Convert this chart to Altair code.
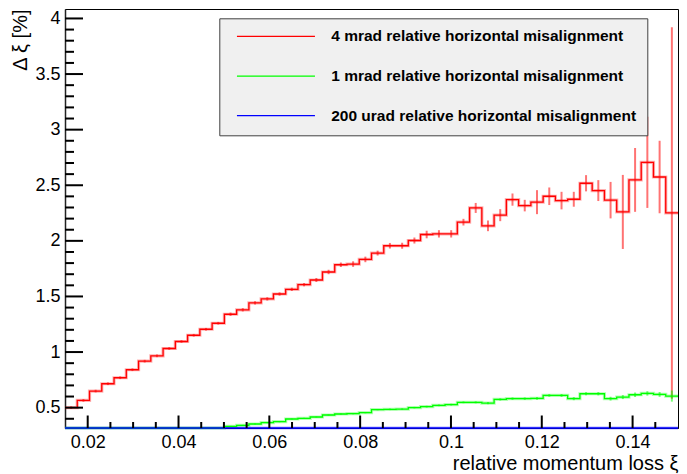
import altair as alt
import numpy as np
import pandas as pd

FONT = "Liberation Sans"

XI_MIN, XI_MAX, N_BINS = 0.015, 0.15, 50
Y_MIN, Y_MAX = 0.317, 4.085

series_names = [
    "4 mrad relative horizontal misalignment",
    "1 mrad relative horizontal misalignment",
    "200 urad relative horizontal misalignment",
]
series_colors = ["#ff0000", "#00ff00", "#0000ff"]

red_values = [0.500, 0.565, 0.649, 0.715, 0.769, 0.841, 0.918, 0.966, 1.032, 1.095,
              1.151, 1.205, 1.259, 1.340, 1.380, 1.442, 1.478, 1.522, 1.564, 1.606,
              1.648, 1.720, 1.785, 1.791, 1.833, 1.890, 1.956, 1.956, 2.003, 2.057,
              2.063, 2.063, 2.168, 2.296, 2.135, 2.231, 2.371, 2.317, 2.348, 2.401,
              2.362, 2.374, 2.518, 2.452, 2.366, 2.260, 2.548, 2.706, 2.574, 2.251]
red_errors = [0.012] * 13 + [0.015] * 7 + [
              0.018, 0.020, 0.020, 0.025, 0.025, 0.022, 0.025, 0.027, 0.027, 0.034,
              0.033, 0.033, 0.030, 0.045, 0.048, 0.054, 0.055, 0.052, 0.108, 0.079,
              0.079, 0.067, 0.073, 0.094, 0.164, 0.333, 0.287, 0.410, 0.326, 1.670]

green_values = [0.125, 0.141, 0.162, 0.179, 0.192, 0.210, 0.230, 0.242, 0.258, 0.274,
                0.288, 0.301, 0.315, 0.332, 0.341, 0.353, 0.365, 0.374, 0.398, 0.404,
                0.416, 0.434, 0.443, 0.446, 0.455, 0.482, 0.485, 0.487, 0.500, 0.509,
                0.521, 0.527, 0.548, 0.548, 0.541, 0.574, 0.581, 0.581, 0.583, 0.610,
                0.610, 0.581, 0.625, 0.625, 0.581, 0.595, 0.616, 0.628, 0.619, 0.604]
green_errors = [0.004] * 15 + [0.005] * 6 + [
                0.006, 0.006, 0.006, 0.006, 0.006, 0.007, 0.007, 0.007, 0.008,
                0.008, 0.008, 0.008, 0.009, 0.010, 0.010, 0.011, 0.011, 0.012, 0.012,
                0.013, 0.014, 0.014, 0.015, 0.017, 0.018, 0.020, 0.020, 0.022, 0.050]

blue_values = [0.025, 0.028, 0.032, 0.036, 0.038, 0.042, 0.046, 0.048, 0.052, 0.055,
               0.058, 0.060, 0.063, 0.067, 0.069, 0.072, 0.074, 0.076, 0.078, 0.080,
               0.082, 0.086, 0.089, 0.090, 0.092, 0.094, 0.098, 0.098, 0.100, 0.103,
               0.103, 0.103, 0.108, 0.115, 0.107, 0.112, 0.119, 0.116, 0.117, 0.120,
               0.118, 0.119, 0.126, 0.123, 0.118, 0.113, 0.127, 0.135, 0.129, 0.113]
blue_errors = [0.003] * 50

x_major = [0.02, 0.04, 0.06, 0.08, 0.1, 0.12, 0.14]
x_minor = [0.025, 0.03, 0.035, 0.045, 0.05, 0.055, 0.065, 0.07, 0.075,
           0.085, 0.09, 0.095, 0.105, 0.11, 0.115, 0.125, 0.13, 0.135, 0.145]
y_major = [0.5, 1, 1.5, 2, 2.5, 3, 3.5, 4]
y_minor = [0.4, 0.6, 0.7, 0.8, 0.9, 1.1, 1.2, 1.3, 1.4, 1.6, 1.7, 1.8, 1.9,
           2.1, 2.2, 2.3, 2.4, 2.6, 2.7, 2.8, 2.9, 3.1, 3.2, 3.3, 3.4,
           3.6, 3.7, 3.8, 3.9]

edges = np.linspace(XI_MIN, XI_MAX, N_BINS + 1)
centers = 0.5 * (edges[:-1] + edges[1:])

step_rows, err_rows = [], []
for name, vals, errs in zip(series_names,
                            [red_values, green_values, blue_values],
                            [red_errors, green_errors, blue_errors]):
    for k in range(N_BINS):
        step_rows.append({"series": name, "xi": float(edges[k]), "val": vals[k], "k": k})
        err_rows.append({"series": name, "xc": float(centers[k]),
                         "lo": vals[k] - errs[k], "hi": vals[k] + errs[k]})
    step_rows.append({"series": name, "xi": float(edges[N_BINS]), "val": vals[-1],
                      "k": N_BINS})
step_df = pd.DataFrame(step_rows)
err_df = pd.DataFrame(err_rows)

W, H = 613, 419
xscale = alt.Scale(domain=[XI_MIN, XI_MAX], nice=False, zero=False)
yscale = alt.Scale(domain=[Y_MIN, Y_MAX], nice=False, zero=False, clamp=True)
cscale = alt.Scale(domain=series_names, range=series_colors)

NBSP = "\u00a0"
legend = alt.Legend(
    title=None, orient="none", legendX=154.3, legendY=9.3, direction="vertical",
    fillColor="#f0f0f0", strokeColor="#404040", padding=10.4, rowPadding=22.6,
    symbolType="M-6.5,0H6.5", symbolSize=144, symbolStrokeWidth=1.2, symbolOpacity=1,
    symbolFillColor="transparent", symbolOffset=38.5,
    labelFont=FONT, labelFontSize=15.5, labelFontWeight="bold", labelColor="black",
    labelOffset=47.5, labelLimit=600,
    labelExpr="datum.label + '" + NBSP * 5 + "'",
    zindex=1,
)

color = alt.Color("series:N", scale=cscale, legend=legend, sort=series_names)

main_x_axis = alt.Axis(
    orient="bottom", values=x_major, format=".2~f", ticks=False, tickSize=0, grid=False,
    domain=True, domainColor="black", domainWidth=1,
    labelFont=FONT, labelFontSize=18, labelColor="black", labelPadding=5,
    labelFlush=False, labelOverlap=False,
    title="relative momentum loss ξ", titleFont=FONT, titleFontSize=20,
    titleFontWeight="normal", titleColor="black", titleAnchor="end",
    titleBaseline="alphabetic", titleY=41,
)
main_y_axis = alt.Axis(
    orient="left", values=y_major, format="~g", ticks=False, tickSize=0, grid=False,
    domain=True, domainColor="#222222", domainWidth=1.5,
    labelFont=FONT, labelFontSize=18, labelColor="black", labelPadding=5,
    labelFlush=False, labelOverlap=False,
    title="Δ ξ [%]", titleFont=FONT, titleFontSize=20, titleFontWeight="normal",
    titleColor="black", titleAnchor="end", titlePadding=4,
)

halo = alt.Chart(step_df).mark_line(interpolate="step-after", strokeWidth=3.2,
                                     opacity=0.3).encode(
    x=alt.X("xi:Q", scale=xscale, axis=main_x_axis),
    y=alt.Y("val:Q", scale=yscale, axis=main_y_axis),
    color=color,
    order=alt.Order("k:Q"),
)

errbars = alt.Chart(err_df).mark_rule(strokeWidth=2, opacity=0.55).encode(
    x=alt.X("xc:Q", scale=xscale, axis=None),
    y=alt.Y("lo:Q", scale=yscale, axis=None),
    y2="hi:Q",
    color=color,
)

core = alt.Chart(step_df).mark_line(interpolate="step-after", strokeWidth=1.3).encode(
    x=alt.X("xi:Q", scale=xscale, axis=None),
    y=alt.Y("val:Q", scale=yscale, axis=None),
    color=color,
    order=alt.Order("k:Q"),
)

# ---- inward-pointing frame ticks (ROOT style), lengths in pixels ----
PX_PER_X = W / (XI_MAX - XI_MIN)
PX_PER_Y = H / (Y_MAX - Y_MIN)
tick_rows = []
for v in x_major:
    tick_rows.append({"x1": v, "x2": v, "y1": Y_MIN, "y2": Y_MIN + 12.5 / PX_PER_Y})
for v in x_minor:
    tick_rows.append({"x1": v, "x2": v, "y1": Y_MIN, "y2": Y_MIN + 6 / PX_PER_Y})
for v in y_major:
    tick_rows.append({"x1": XI_MIN, "x2": XI_MIN + 18 / PX_PER_X, "y1": v, "y2": v})
for v in y_minor:
    tick_rows.append({"x1": XI_MIN, "x2": XI_MIN + 9 / PX_PER_X, "y1": v, "y2": v})
tick_df = pd.DataFrame(tick_rows)

ticks = alt.Chart(tick_df).mark_rule(strokeWidth=2, color="black", opacity=1).encode(
    x=alt.X("x1:Q", scale=xscale, axis=None),
    x2="x2:Q",
    y=alt.Y("y1:Q", scale=yscale, axis=None),
    y2="y2:Q",
)

chart = (
    alt.layer(halo, errbars, core, ticks)
    .resolve_axis(x="independent", y="independent")
    .properties(width=W, height=H, autosize="none",
                padding={"left": 57, "top": 1, "right": 1, "bottom": 46},
                background="white")
    .configure_view(stroke="black", strokeWidth=1)
)

chart.save("out.html", embed_options={"renderer": "svg", "actions": False})
